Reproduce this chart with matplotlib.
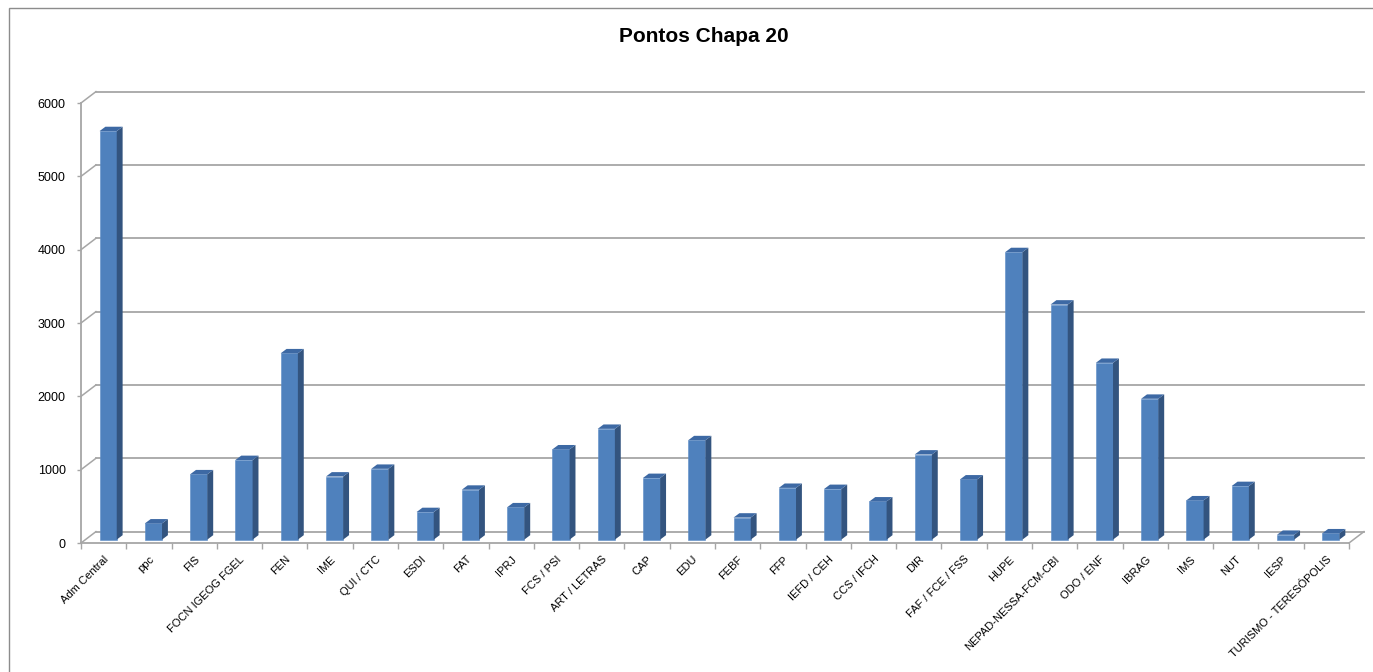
import numpy as np
import matplotlib.pyplot as plt
from matplotlib.patches import Polygon, Rectangle

categories = [
    "Adm Central", "ppc", "FIS", "FOCN IGEOG FGEL", "FEN", "IME", "QUI / CTC",
    "ESDI", "FAT", "IPRJ", "FCS / PSI", "ART / LETRAS", "CAP", "EDU", "FEBF",
    "FFP", "IEFD / CEH", "CCS / IFCH", "DIR", "FAF / FCE / FSS", "HUPE",
    "NEPAD-NESSA-FCM-CBI", "ODO / ENF", "IBRAG", "IMS", "NUT", "IESP",
    "TURISMO - TERESÓPOLIS",
]
pontos = [
    5570, 220, 890, 1085, 2540, 860, 965, 375, 680, 440, 1230, 1510, 840,
    1355, 300, 705, 690, 520, 1160, 820, 3920, 3205, 2410, 1920, 535, 730,
    65, 85,
]
y_ticks = [0, 1000, 2000, 3000, 4000, 5000, 6000]

FRONT = "#4F81BD"
SIDE = "#33547F"
TOP = "#3D69A4"
GRID = "#A6A6A6"

plt.rcParams["font.family"] = ["Liberation Sans", "DejaVu Sans"]

W, H = 1373, 672
fig = plt.figure(figsize=(W / 100, H / 100), dpi=100)
fig.add_artist(Rectangle((9 / W, -0.1), 1.2, 1.1 - 8 / H, transform=fig.transFigure,
                         fill=False, edgecolor="#8C8C8C", lw=1))

ax = fig.add_axes([81 / W, 1 - 543 / H, 1268 / W, 440 / H])
n = len(categories)
ax.set_xlim(0, n)
ax.set_ylim(0, 6000)

# 3d look: floor / wall depth and bar depth, in data units
DX, DY = 0.33, 155
BW = 0.38
BDX, BDY = 0.13, 60
OFF = 0.3

# back wall grid + side wall connectors
for y in y_ticks:
    ax.plot([DX, n + DX], [y + DY, y + DY], color=GRID, lw=1.3, clip_on=False, zorder=1)
    ax.plot([0, DX], [y, y + DY], color=GRID, lw=1.1, clip_on=False, zorder=1)
ax.plot([n, n + DX], [0, DY], color=GRID, lw=1.1, clip_on=False, zorder=1)

x = np.arange(n) + 0.5 - BW / 2 + OFF * DX
base = OFF * DY
ax.bar(x, pontos, width=BW, bottom=base, align="edge", color=FRONT,
       edgecolor="#5B8BC6", lw=0.4, zorder=3, clip_on=False)
for xi, v in zip(x, pontos):
    top = base + v
    ax.add_patch(Polygon([(xi + BW, base), (xi + BW + BDX, base + BDY),
                          (xi + BW + BDX, top + BDY), (xi + BW, top)],
                         closed=True, facecolor=SIDE, edgecolor="none",
                         zorder=3, clip_on=False))
    ax.add_patch(Polygon([(xi, top), (xi + BW, top), (xi + BW + BDX, top + BDY),
                          (xi + BDX, top + BDY)],
                         closed=True, facecolor=TOP, edgecolor="none",
                         zorder=3, clip_on=False))

for side in ["top", "right"]:
    ax.spines[side].set_visible(False)
for side in ["left", "bottom"]:
    ax.spines[side].set_color(GRID)
    ax.spines[side].set_linewidth(1.3)

ax.set_yticks(y_ticks)
ax.tick_params(axis="y", length=3, width=1, color=GRID, pad=8, labelsize=9)

ax.set_xticks(np.arange(n) + 0.5)
ax.set_xticklabels(categories, rotation=45, ha="right", rotation_mode="anchor")
ax.set_xticks(np.arange(n + 1), minor=True)
ax.tick_params(axis="x", which="major", length=0, pad=8, labelsize=8)
ax.tick_params(axis="x", which="minor", length=4, width=1, color=GRID)

fig.text(704 / W, 1 - 42 / H, "Pontos Chapa 20", ha="center", va="baseline",
         fontsize=15, fontweight="bold")

fig.savefig("out.png", dpi=100)
